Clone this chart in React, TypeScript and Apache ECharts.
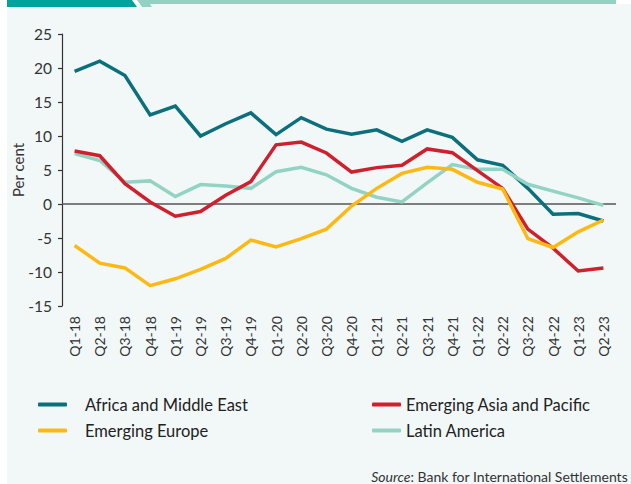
import React, { useEffect, useRef } from "react";
import * as echarts from "echarts";

const categories = [
  "Q1-18", "Q2-18", "Q3-18", "Q4-18", "Q1-19", "Q2-19", "Q3-19", "Q4-19",
  "Q1-20", "Q2-20", "Q3-20", "Q4-20", "Q1-21", "Q2-21", "Q3-21", "Q4-21",
  "Q1-22", "Q2-22", "Q3-22", "Q4-22", "Q1-23", "Q2-23",
];

const africaMiddleEast = [19.5, 21.0, 18.9, 13.1, 14.4, 10.0, 11.8, 13.4, 10.2, 12.7, 11.0, 10.25, 10.9, 9.2, 10.9, 9.8, 6.5, 5.7, 2.3, -1.5, -1.4, -2.5];
const emergingAsiaPacific = [7.8, 7.1, 3.0, 0.3, -1.8, -1.1, 1.3, 3.3, 8.7, 9.1, 7.5, 4.7, 5.35, 5.7, 8.1, 7.55, 4.9, 2.3, -3.7, -6.5, -9.85, -9.4];
const emergingEurope = [-6.1, -8.7, -9.4, -12.0, -11.0, -9.6, -8.0, -5.3, -6.3, -5.1, -3.7, -0.3, 2.3, 4.5, 5.4, 5.1, 3.2, 2.2, -5.1, -6.4, -4.1, -2.35];
const latinAmerica = [7.4, 6.4, 3.2, 3.4, 1.1, 2.85, 2.65, 2.3, 4.75, 5.4, 4.3, 2.3, 1.0, 0.3, 3.1, 5.8, 5.1, 5.1, 2.9, 1.9, 0.9, -0.2];

const seriesNames = ["Africa and Middle East", "Emerging Asia and Pacific", "Emerging Europe", "Latin America"];
const yMin = -15;
const yMax = 25;
const yStep = 5;

const FONT = "Lato, 'Noto Sans', sans-serif";
const COLORS = {
  africa: "#0b6f7c",
  asia: "#d0202e",
  europe: "#fdb913",
  latin: "#93d3c3",
};

export default function App() {
  const ref = useRef<HTMLDivElement>(null);

  useEffect(() => {
    if (!ref.current) return;
    const chart = echarts.init(ref.current, null, { renderer: "svg" });

    const line = (name: string, data: number[], color: string, extra: any = {}) => ({
      name,
      type: "line",
      data,
      symbol: "none",
      lineStyle: { color, width: 3.5, join: "miter" },
      itemStyle: { color },
      silent: true,
      ...extra,
    });

    const legendText = { fontSize: 16.5, color: "#222", fontFamily: FONT };

    chart.setOption({
      animation: false,
      backgroundColor: "transparent",
      textStyle: { fontFamily: FONT },
      graphic: [
        { type: "rect", shape: { x: 7, y: 4, width: 624, height: 480 }, style: { fill: "#f2f8f8" }, z: -10 },
        { type: "polygon", shape: { points: [[7, 0], [132, 0], [137, 7], [7, 7]] }, style: { fill: "#00a39c" }, z: -5 },
        { type: "polygon", shape: { points: [[137, 0], [616, 0], [616, 4], [150, 4], [152, 7], [142, 7]] }, style: { fill: "#93d2c2" }, z: -5 },
        {
          type: "text",
          right: 3,
          top: 469,
          style: {
            rich: {
              i: { fontStyle: "italic", fontSize: 14, fontFamily: FONT, fill: "#333" },
              n: { fontSize: 14, fontFamily: FONT, fill: "#333" },
            },
            text: "{i|Source}{n|: Bank for International Settlements}",
          },
        },
      ],
      grid: { left: 62, right: 15, top: 34, bottom: 178, containLabel: false, outerBoundsMode: "none" },
      legend: [
        {
          data: [seriesNames[0], seriesNames[2]],
          orient: "vertical",
          left: 33,
          top: 391,
          itemWidth: 29,
          itemHeight: 4,
          itemGap: 9,
          icon: "roundRect",
          textStyle: { ...legendText, padding: [0, 0, 0, 13] },
        },
        {
          data: [seriesNames[1], seriesNames[3]],
          orient: "vertical",
          left: 367,
          top: 391,
          itemWidth: 29,
          itemHeight: 4,
          itemGap: 9,
          icon: "roundRect",
          textStyle: { ...legendText, padding: [0, 0, 0, 0] },
        },
      ],
      xAxis: {
        type: "category",
        data: categories,
        boundaryGap: true,
        axisLine: { show: false },
        axisTick: { show: false },
        axisLabel: { rotate: 90, interval: 0, margin: 10, fontSize: 14, color: "#333", fontFamily: FONT },
        splitLine: { show: false },
      },
      yAxis: {
        type: "value",
        min: yMin,
        max: yMax,
        interval: yStep,
        name: "Per cent",
        nameLocation: "middle",
        nameGap: 37,
        nameMoveOverlap: false,
        nameTextStyle: { fontSize: 15, color: "#333", fontFamily: FONT },
        axisLine: { show: true, lineStyle: { color: "#333", width: 1.2 } },
        axisTick: { show: true, length: 4, lineStyle: { color: "#333", width: 1.2 } },
        axisLabel: { margin: 10, fontSize: 15.5, color: "#333", fontFamily: FONT },
        splitLine: { show: false },
      },
      series: [
        line(seriesNames[0], africaMiddleEast, COLORS.africa, {
          markLine: {
            silent: true,
            symbol: "none",
            label: { show: false },
            lineStyle: { color: "#555", width: 1.5, type: "solid" },
            data: [{ yAxis: 0 }],
            z: 1,
          },
        }),
        line(seriesNames[3], latinAmerica, COLORS.latin),
        line(seriesNames[1], emergingAsiaPacific, COLORS.asia),
        line(seriesNames[2], emergingEurope, COLORS.europe),
      ],
    });

    return () => chart.dispose();
  }, []);

  return (
    <div
      ref={ref}
      style={{ position: "absolute", left: 0, top: 0, width: 631, height: 484 }}
    />
  );
}
